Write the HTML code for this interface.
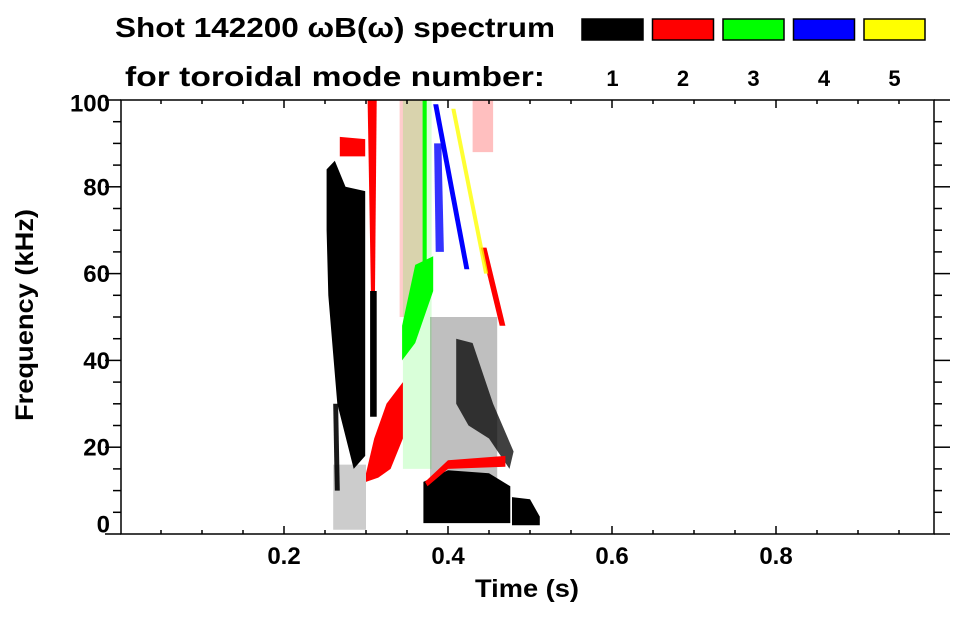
<!DOCTYPE html>
<html><head><meta charset="utf-8"><style>
html,body{margin:0;padding:0;background:#fff;}
svg text{font-family:"Liberation Sans",sans-serif;font-weight:bold;fill:#000;}
</style></head><body>
<svg id="chart" width="963" height="615" viewBox="0 0 963 615" xmlns="http://www.w3.org/2000/svg">
<text x="115" y="37" font-size="28" textLength="440" lengthAdjust="spacingAndGlyphs">Shot 142200 ωB(ω) spectrum</text>
<text x="125" y="86" font-size="28" textLength="420" lengthAdjust="spacingAndGlyphs">for toroidal mode number:</text>
<g id="legend"></g>
<g id="marks"></g>
<g id="axes"></g>
<text x="527" y="597" font-size="25" text-anchor="middle" textLength="104" lengthAdjust="spacingAndGlyphs">Time (s)</text>
<text transform="translate(33,315) rotate(-90)" font-size="25" text-anchor="middle" textLength="212" lengthAdjust="spacingAndGlyphs">Frequency (kHz)</text>
</svg>
<script>
const modeNumbers = [1, 2, 3, 4, 5];
const modeColors = ["#000000", "#ff0000", "#00ff00", "#0000ff", "#ffff00"];
const xTicks = [0.2, 0.4, 0.6, 0.8];
const xTickLabels = ["0.2", "0.4", "0.6", "0.8"];
const yTicks = [0, 20, 40, 60, 80, 100];
const yTickLabels = ["0", "20", "40", "60", "80", "100"];
// regions: mode, density, polygon points [t,f, t,f, ...]
const regionModes = [1,1,1,1,1,1,1,1, 2,2,2,2,2,2,2, 3,3,3, 4,4, 5];
const regionDensity = [1,1,0.25,0.75,1,1,0.2,0.9, 1,1,1,0.2,1,1,0.25, 1,1,0.15, 1,0.8, 0.8];
const regionPoints = [
 [0.252,84, 0.262,86, 0.275,80, 0.299,79, 0.299,18, 0.285,15, 0.265,30, 0.254,55, 0.252,70],
 [0.305,56, 0.313,56, 0.313,27, 0.305,27],
 [0.378,50, 0.46,50, 0.46,12, 0.378,12],
 [0.41,45, 0.43,44, 0.455,30, 0.48,19, 0.475,15, 0.45,22, 0.425,25, 0.41,30],
 [0.37,12, 0.40,14.7, 0.45,14, 0.476,11, 0.476,2.5, 0.37,2.5],
 [0.478,8.5, 0.50,8, 0.512,4, 0.512,2, 0.478,2],
 [0.26,16, 0.30,16, 0.30,1, 0.26,1],
 [0.26,30, 0.266,30, 0.268,10, 0.262,10],
 [0.268,91.5, 0.299,91, 0.299,87, 0.268,87],
 [0.302,100, 0.313,100, 0.311,56, 0.306,56],
 [0.30,14, 0.31,22, 0.325,30, 0.345,35, 0.345,22, 0.33,15, 0.315,13, 0.30,12],
 [0.341,100, 0.37,100, 0.37,50, 0.341,50],
 [0.372,12, 0.40,17, 0.47,18, 0.47,15.5, 0.40,15, 0.375,11],
 [0.44,66, 0.447,66, 0.47,48, 0.463,48],
 [0.43,100, 0.455,100, 0.455,88, 0.43,88],
 [0.344,48, 0.36,62, 0.382,64, 0.382,56, 0.36,44, 0.344,40],
 [0.369,100, 0.374,100, 0.374,55, 0.369,55],
 [0.345,100, 0.38,100, 0.38,15, 0.345,15],
 [0.382,99, 0.388,99, 0.426,61, 0.42,61],
 [0.383,90, 0.392,90, 0.395,65, 0.385,65],
 [0.404,98, 0.409,98, 0.449,60, 0.444,60]
];
const svg = document.getElementById('chart');
const NS = 'http://www.w3.org/2000/svg';
const X0 = 121, X1 = 934, Y0 = 534, Y1 = 100;
const tMax = (X1 - 120) / 820;
function xs(t){ return 120 + t * 820; }
function ys(f){ return Y0 - f * (Y0 - Y1) / 100; }
function mk(tag, attrs, parent){
  const e = document.createElementNS(NS, tag);
  for (const k in attrs) e.setAttribute(k, attrs[k]);
  parent.appendChild(e); return e;
}
// legend
const lg = document.getElementById('legend');
modeNumbers.forEach((m, i) => {
  const x = 582 + i * 70.5;
  const r = mk('rect', {x: x, y: 19, width: 61, height: 21, fill: modeColors[i], stroke: '#000', 'stroke-width': 1.5}, lg);
  
  
  const t = mk('text', {x: x + 30.5, y: 86, 'font-size': 22, 'text-anchor': 'middle'}, lg);
  t.textContent = String(m);
  
  
});
// marks
const mg = document.getElementById('marks');
regionPoints.forEach((pts, i) => {
  const c = modeColors[regionModes[i] - 1];
  let s = '';
  for (let k = 0; k < pts.length; k += 2) s += xs(pts[k]).toFixed(1) + ',' + ys(pts[k+1]).toFixed(1) + ' ';
  const p = mk('polygon', {points: s, fill: c, 'fill-opacity': regionDensity[i]}, mg);
  
  
});
// axes
const ag = document.getElementById('axes');
const st = {stroke: '#000', 'stroke-width': 1.5, fill: 'none'};
mk('rect', Object.assign({x: X0, y: Y1, width: X1 - X0, height: Y0 - Y1}, st), ag);
for (let f = 0; f <= 100; f += 5) {
  const y = ys(f); const len = (f % 20 === 0) ? 16 : 8;
  mk('line', Object.assign({x1: X0 - len, y1: y, x2: X0, y2: y}, st), ag);
  mk('line', Object.assign({x1: X1, y1: y, x2: X1 + len, y2: y}, st), ag);
}
for (let k = 1; k * 0.05 < tMax; k++) {
  const x = xs(k * 0.05); const len = (k % 4 === 0) ? 8 : 4;
  mk('line', Object.assign({x1: x, y1: Y0, x2: x, y2: Y0 - len}, st), ag);
  mk('line', Object.assign({x1: x, y1: Y1, x2: x, y2: Y1 + len}, st), ag);
}
yTicks.forEach((v, i) => {
  let cy = ys(v);
  cy = Math.min(Math.max(cy, 103), 524);
  const t = mk('text', {x: 110, y: cy + 8.5, 'font-size': 24, 'text-anchor': 'end'}, ag);
  t.textContent = yTickLabels[i];
  
  
});
xTicks.forEach((v, i) => {
  const t = mk('text', {x: xs(v), y: 564, 'font-size': 24, 'text-anchor': 'middle'}, ag);
  t.textContent = xTickLabels[i];
  
  
});
</script>
</body></html>
